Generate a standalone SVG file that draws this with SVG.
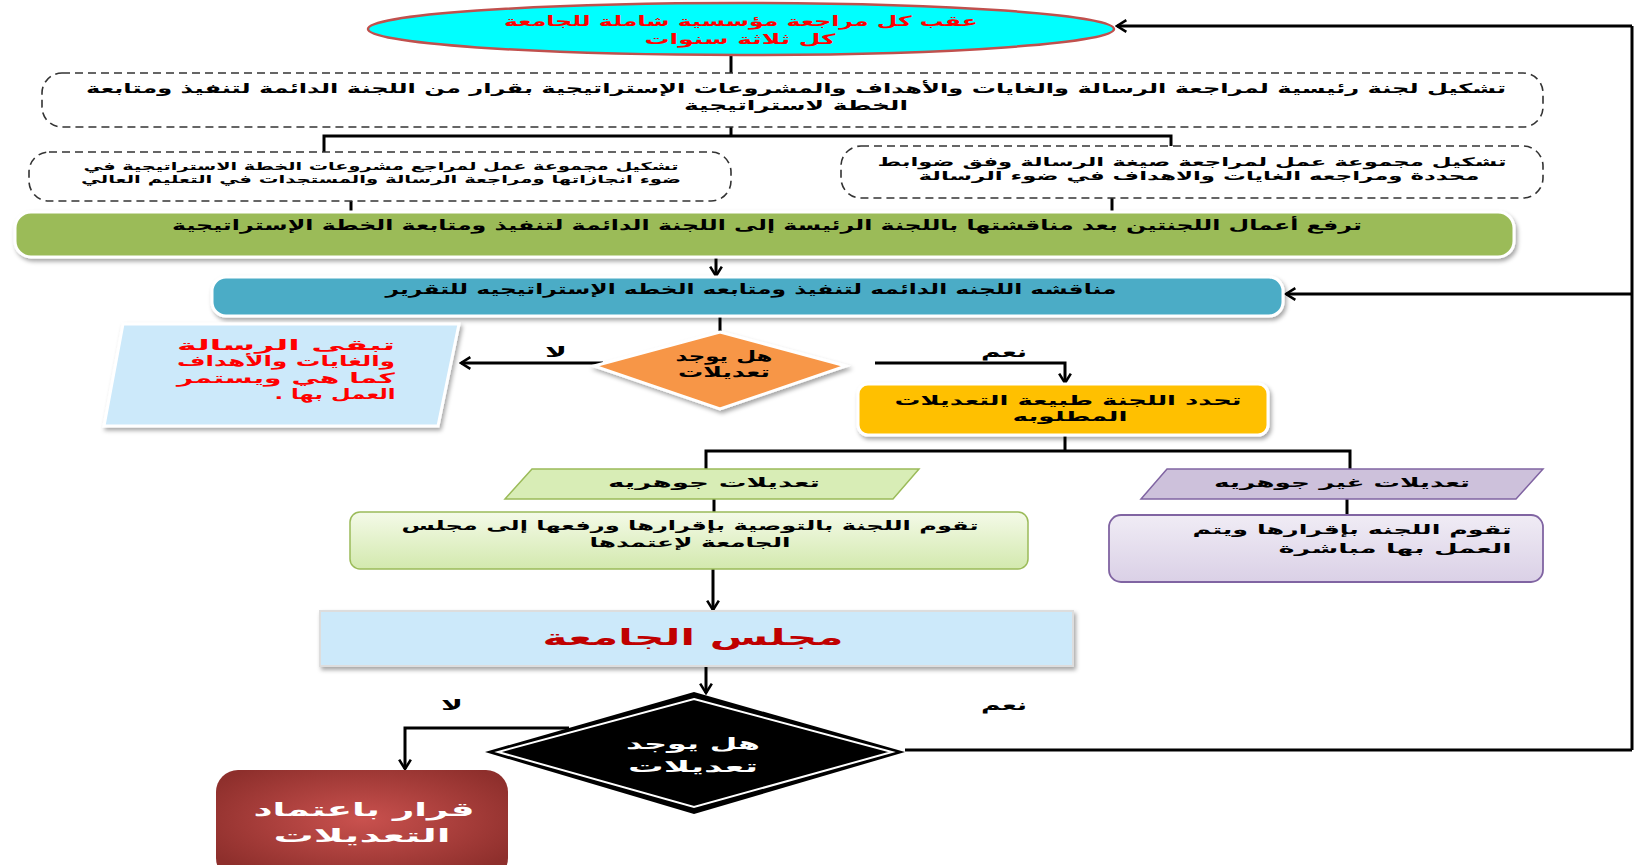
<svg xmlns="http://www.w3.org/2000/svg" width="1637" height="865" viewBox="0 0 1637 865">
<style>
.t{font-family:"DejaVu Sans","Noto Sans",sans-serif;font-weight:bold;direction:rtl;text-anchor:middle;fill:#000}
.red{fill:#FF0000}
.w{fill:#fff}
.ln{fill:none;stroke:#000;stroke-width:3}
.dash{fill:#fff;stroke:#333;stroke-width:1.6;stroke-dasharray:8,5}
.sh{filter:url(#shadow)}
</style>
<defs>
<marker id="arr" viewBox="0 0 12 12" refX="10" refY="6" markerWidth="14" markerHeight="14" markerUnits="userSpaceOnUse" orient="auto">
<path d="M2,1 L10,6 L2,11" fill="none" stroke="#000" stroke-width="2.2"/>
</marker>
<filter id="shadow" x="-5%" y="-20%" width="110%" height="150%">
<feDropShadow dx="2" dy="3" stdDeviation="2" flood-color="#000" flood-opacity="0.35"/>
</filter>
<linearGradient id="gGreen" x1="0" y1="0" x2="0" y2="1">
<stop offset="0" stop-color="#F4FAE8"/><stop offset="1" stop-color="#D3E9AE"/>
</linearGradient>
<linearGradient id="gPurple" x1="0" y1="0" x2="0" y2="1">
<stop offset="0" stop-color="#F0ECF5"/><stop offset="1" stop-color="#DAD0E6"/>
</linearGradient>
<radialGradient id="gRed" cx="0.5" cy="0.45" r="0.6">
<stop offset="0" stop-color="#C9514E"/><stop offset="1" stop-color="#8E2F2C"/>
</radialGradient>
</defs>
<rect width="1637" height="865" fill="#fff"/>

<g id="connectors">
<line class="ln" x1="1632" y1="26" x2="1632" y2="750" stroke-width="3.5"/>
<line class="ln" x1="1632" y1="26" x2="1117" y2="26" marker-end="url(#arr)"/>
<line class="ln" x1="1632" y1="294" x2="1286" y2="294" marker-end="url(#arr)" stroke-width="2"/>
<line class="ln" x1="905" y1="750" x2="1632" y2="750" stroke-width="2.5"/>
<line class="ln" x1="731" y1="56" x2="731" y2="73"/>
<polyline class="ln" points="324,155 324,136 1171,136 1171,149"/>
<line class="ln" x1="731" y1="127" x2="731" y2="136"/>
<line class="ln" x1="351" y1="201" x2="351" y2="212"/>
<line class="ln" x1="1112" y1="198" x2="1112" y2="212"/>
<line class="ln" x1="716" y1="258" x2="716" y2="276" marker-end="url(#arr)"/>
<line class="ln" x1="720" y1="317" x2="720" y2="332"/>
<line class="ln" x1="603" y1="363" x2="461" y2="363" marker-end="url(#arr)"/>
<polyline class="ln" points="875,363 1065,363 1065,383" marker-end="url(#arr)"/>
<polyline class="ln" points="1065,435 1065,451"/>
<polyline class="ln" points="706,469 706,451 1350,451 1350,469"/>
<line class="ln" x1="714" y1="499" x2="714" y2="512"/>
<line class="ln" x1="1347" y1="499" x2="1347" y2="515"/>
<line class="ln" x1="713" y1="569" x2="713" y2="610" marker-end="url(#arr)"/>
<line class="ln" x1="706" y1="648" x2="706" y2="693" marker-end="url(#arr)"/>
<polyline class="ln" points="569,728 405,728 405,769" marker-end="url(#arr)" stroke-width="2.5"/>
</g>

<g id="n-top">
<ellipse cx="741" cy="29" rx="373" ry="26" fill="#00FFFF" stroke="#C0504D" stroke-width="2.5"/>
<text class="t red" x="741" y="26" font-size="14" textLength="474" lengthAdjust="spacingAndGlyphs">عقب كل مراجعة مؤسسية شاملة للجامعة</text>
<text class="t red" x="740" y="44" font-size="14" textLength="191" lengthAdjust="spacingAndGlyphs">كل ثلاثة سنوات</text>
</g>

<g id="n-main-committee">
<rect class="dash" x="42" y="73" width="1501" height="54" rx="20"/>
<text class="t" x="796" y="93" font-size="13.5" textLength="1420" lengthAdjust="spacingAndGlyphs">تشكيل لجنة رئيسية لمراجعة الرسالة والغايات والأهداف والمشروعات الإستراتيجية بقرار من اللجنة الدائمة لتنفيذ ومتابعة</text>
<text class="t" x="796" y="110" font-size="13.5" textLength="224" lengthAdjust="spacingAndGlyphs">الخطة لاستراتيجية</text>
</g>

<g id="n-left-group">
<rect class="dash" x="29" y="152" width="702" height="49" rx="20"/>
<text class="t" x="381" y="170" font-size="11" textLength="595" lengthAdjust="spacingAndGlyphs">تشكيل مجموعة عمل لمراجع مشروعات الخطة الاستراتيجية في</text>
<text class="t" x="381" y="183" font-size="11" textLength="600" lengthAdjust="spacingAndGlyphs">ضوء انجازاتها ومراجعة الرسالة والمستجدات في التعليم العالي</text>
</g>

<g id="n-right-group">
<rect class="dash" x="841" y="146" width="702" height="52" rx="20"/>
<text class="t" x="1192" y="166" font-size="12" textLength="629" lengthAdjust="spacingAndGlyphs">تشكيل مجموعة عمل لمراجعة صيغة الرسالة وفق ضوابط</text>
<text class="t" x="1199" y="180" font-size="12" textLength="561" lengthAdjust="spacingAndGlyphs">محددة ومراجعه الغايات والاهداف في ضوء الرسالة</text>
</g>

<g id="n-green-bar">
<rect class="sh" x="15" y="212" width="1499" height="45" rx="16" fill="#9BBB59" stroke="#fff" stroke-width="3"/>
<text class="t" x="767" y="230" font-size="14" textLength="1190" lengthAdjust="spacingAndGlyphs">ترفع أعمال اللجنتين بعد مناقشتها باللجنة الرئيسة إلى اللجنة الدائمة لتنفيذ ومتابعة الخطة الإستراتيجية</text>
</g>

<g id="n-blue-bar">
<rect class="sh" x="212" y="277" width="1071" height="39" rx="14" fill="#4BACC6" stroke="#fff" stroke-width="3"/>
<text class="t" x="751" y="294" font-size="14" textLength="731" lengthAdjust="spacingAndGlyphs">مناقشه اللجنه الدائمه لتنفيذ ومتابعه الخطه الإستراتيجيه للتقرير</text>
</g>

<g id="n-diamond1">
<polygon class="sh" points="720,332 846,366 720,409 594,366" fill="#F79646" stroke="#fff" stroke-width="3"/>
<text class="t" x="724" y="361" font-size="14" textLength="97" lengthAdjust="spacingAndGlyphs">هل يوجد</text>
<text class="t" x="724" y="377" font-size="14" textLength="92" lengthAdjust="spacingAndGlyphs">تعديلات</text>
</g>

<g id="n-keep">
<polygon class="sh" points="123,324 459,324 438,426 104,426" fill="#CCE9FA" stroke="#fff" stroke-width="3"/>
<text class="t red" x="286" y="350" font-size="14" textLength="218" lengthAdjust="spacingAndGlyphs">تبقى الرسالة</text>
<text class="t red" x="286" y="366" font-size="14" textLength="218" lengthAdjust="spacingAndGlyphs">والغايات والأهداف</text>
<text class="t red" x="286" y="383" font-size="14" textLength="218" lengthAdjust="spacingAndGlyphs">كما هي ويستمر</text>
<text class="t red" x="335" y="399" font-size="14" textLength="121" lengthAdjust="spacingAndGlyphs">العمل بها .</text>
</g>

<g id="labels">
<text class="t" x="556" y="357" font-size="15" textLength="22" lengthAdjust="spacingAndGlyphs">لا</text>
<text class="t" x="1004" y="357" font-size="15" textLength="46" lengthAdjust="spacingAndGlyphs">نعم</text>
<text class="t" x="452" y="710" font-size="15" textLength="22" lengthAdjust="spacingAndGlyphs">لا</text>
<text class="t" x="1004" y="710" font-size="15" textLength="46" lengthAdjust="spacingAndGlyphs">نعم</text>
</g>

<g id="n-yellow">
<rect class="sh" x="858" y="384" width="410" height="51" rx="10" fill="#FFC000" stroke="#fff" stroke-width="3"/>
<text class="t" x="1068" y="405" font-size="13.5" textLength="347" lengthAdjust="spacingAndGlyphs">تحدد اللجنة طبيعة التعديلات</text>
<text class="t" x="1070" y="421" font-size="13.5" textLength="115" lengthAdjust="spacingAndGlyphs">المطلوبه</text>
</g>

<g id="n-major">
<polygon points="532,469 919,469 893,499 505,499" fill="#D8EDB6" stroke="#9BBB59" stroke-width="1.5"/>
<text class="t" x="714" y="487" font-size="13" textLength="212" lengthAdjust="spacingAndGlyphs">تعديلات جوهريه</text>
</g>

<g id="n-minor">
<polygon points="1167,469 1543,469 1516,499 1141,499" fill="#CDC1DB" stroke="#8064A2" stroke-width="1.5"/>
<text class="t" x="1342" y="487" font-size="13" textLength="256" lengthAdjust="spacingAndGlyphs">تعديلات غير جوهريه</text>
</g>

<g id="n-major-action">
<rect x="350" y="512" width="678" height="57" rx="10" fill="url(#gGreen)" stroke="#9BBB59" stroke-width="1.5"/>
<text class="t" x="690" y="530" font-size="13" textLength="577" lengthAdjust="spacingAndGlyphs">تقوم اللجنة بالتوصية بإقرارها ورفعها إلى مجلس</text>
<text class="t" x="690" y="547" font-size="13" textLength="201" lengthAdjust="spacingAndGlyphs">الجامعة لإعتمدها</text>
</g>

<g id="n-minor-action">
<rect x="1109" y="515" width="434" height="67" rx="12" fill="url(#gPurple)" stroke="#8064A2" stroke-width="1.8"/>
<text class="t" x="1352" y="534" font-size="13" textLength="319" lengthAdjust="spacingAndGlyphs">تقوم اللجنه بإقرارها ويتم</text>
<text class="t" x="1395" y="553" font-size="13" textLength="233" lengthAdjust="spacingAndGlyphs">العمل بها مباشرة</text>
</g>

<g id="n-council">
<rect class="sh" x="320" y="611" width="753" height="55" fill="#CCE9FA" stroke="#ddd" stroke-width="2"/>
<text class="t" x="693" y="645" font-size="22" style="fill:#C00000" textLength="301" lengthAdjust="spacingAndGlyphs">مجلس الجامعة</text>
</g>

<g id="n-diamond2">
<polygon points="694,692 905,752 694,814 485,752" fill="#000"/>
<polygon points="694,699 892,752 694,807 498,752" fill="none" stroke="#fff" stroke-width="2"/>
<text class="t w" x="693" y="749" font-size="16" textLength="134" lengthAdjust="spacingAndGlyphs">هل يوجد</text>
<text class="t w" x="693" y="772" font-size="16" textLength="130" lengthAdjust="spacingAndGlyphs">تعديلات</text>
</g>

<g id="n-decision">
<rect x="216" y="770" width="292" height="110" rx="22" fill="url(#gRed)"/>
<text class="t w" x="364" y="816" font-size="19" textLength="221" lengthAdjust="spacingAndGlyphs">قرار باعتماد</text>
<text class="t w" x="362" y="842" font-size="19" textLength="177" lengthAdjust="spacingAndGlyphs">التعديلات</text>
</g>
</svg>
